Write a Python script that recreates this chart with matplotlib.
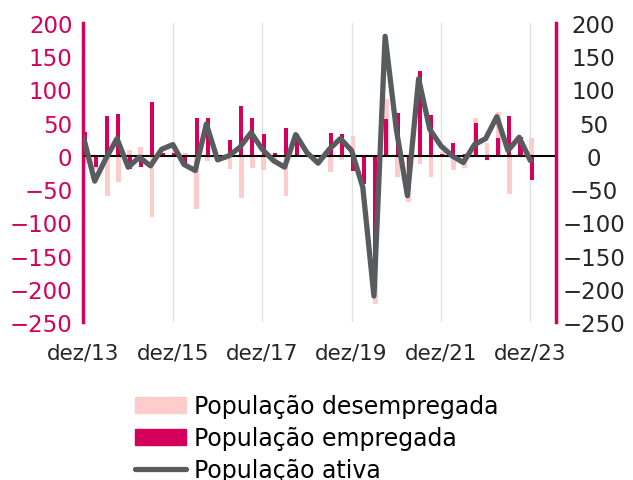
import numpy as np
import matplotlib.pyplot as plt
from matplotlib.patches import Patch
from matplotlib.lines import Line2D

# quarterly changes, dez/13 .. dez/23 (thousands)
empregada = [36, -17, 60, 63, -20, -16, 81, 5, 4, -17,
             57, 57, -5, 24, 75, 57, 33, 5, 42, 33,
             2, -2, 35, 33, -22, -42, -200, 55, 65, -50,
             128, 62, 3, 20, 3, 50, -6, 27, 60, 28,
             -36]
desempregada = [-10, -20, -60, -39, 9, 14, -92, 3, 8, 5,
                -80, -8, 2, -20, -63, -18, -21, -12, -60, -2,
                5, -10, -24, -6, 30, 0, -223, 85, -32, -70,
                -12, -32, 6, -21, -18, 57, 20, 66, -57, 5,
                27]
ativa = [28, -38, -4, 26, -17, -2, -15, 10, 17, -13,
         -22, 48, -6, 0, 13, 35, 10, -7, -17, 32,
         5, -11, 10, 26, 8, -47, -211, 180, 40, -60,
         116, 40, 15, 0, -10, 17, 26, 59, 8, 28,
         -7]
tick_labels = ["dez/13", "dez/15", "dez/17", "dez/19", "dez/21", "dez/23"]
tick_step = 8

magenta = "#D4005C"
pink = "#FFCCCC"
grey = "#595C5F"

fig = plt.figure(figsize=(6.33, 4.81), dpi=100)
ax = fig.add_axes([0.1319, 0.3285, 0.7465, 0.6216])
ax2 = ax.twinx()

x = np.arange(len(ativa))
ax.bar(x + 0.12, desempregada, width=0.42, color=pink, zorder=2)
ax.bar(x + 0.12, empregada, width=0.36, color=magenta, zorder=3)
ax.axhline(0, color="black", lw=1.5, zorder=4)
ax2.plot(x, ativa, color=grey, lw=3.8, solid_joinstyle="round",
         solid_capstyle="round", zorder=5)

for a in (ax, ax2):
    a.set_ylim(-250, 200)
    a.set_yticks(np.arange(-250, 201, 50))
    a.set_xlim(0, 42.3)
    for s in ("top", "bottom"):
        a.spines[s].set_visible(False)
ax.spines["right"].set_visible(False)
ax2.spines["left"].set_visible(False)
ax.spines["left"].set_color(magenta)
ax.spines["left"].set_linewidth(2.5)
ax2.spines["right"].set_color(magenta)
ax2.spines["right"].set_linewidth(2.5)

ax.set_xticks(x[::tick_step])
ax.set_xticklabels(tick_labels)
ax.grid(axis="x", color="#E3E3E3", lw=1)
ax.set_axisbelow(True)
ax.tick_params(axis="x", length=0, labelsize=15.5, pad=15, labelcolor="#262626")
ax.tick_params(axis="y", length=0, labelsize=16.5, pad=8, labelcolor=magenta)
ax2.tick_params(axis="y", length=0, labelsize=16.5, pad=27, labelcolor="#262626")
for lab in ax2.get_yticklabels():
    lab.set_horizontalalignment("center")

handles = [Patch(color=pink), Patch(color=magenta),
           Line2D([], [], color=grey, lw=3.8, solid_capstyle="round")]
labels = ["População desempregada", "População empregada", "População ativa"]
fig.legend(handles, labels, loc="upper left", bbox_to_anchor=(0.214, 0.178),
           frameon=False, fontsize=17, handlelength=2.15, handleheight=0.63,
           handletextpad=0.35, labelspacing=0.33, borderpad=0, borderaxespad=0)

fig.savefig("out.png", dpi=100)
